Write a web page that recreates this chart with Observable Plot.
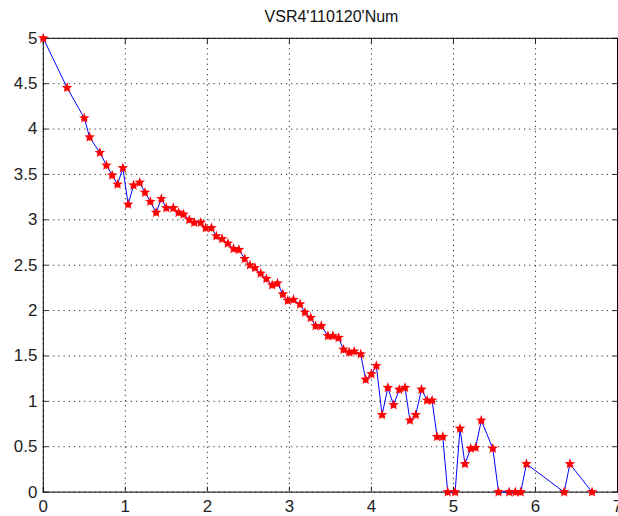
<!DOCTYPE html>
<html>
<head>
<meta charset="utf-8">
<script src="https://cdn.jsdelivr.net/npm/d3@7"></script>
<script src="https://cdn.jsdelivr.net/npm/@observablehq/plot@0.6"></script>
<style>
  html, body { margin: 0; padding: 0; background: #fff; overflow: hidden; }
  #wrap { position: relative; width: 618px; height: 516px; overflow: hidden; }
  #title {
    position: absolute; left: 0; width: 663px; top: 8px; text-align: center;
    font-family: "Liberation Sans", Arial, sans-serif; font-size: 16px; color: #111;
  }
  svg { display: block; }
</style>
</head>
<body>
<div id="wrap">
  <div id="title">VSR4'110120'Num</div>
  <div id="chart"></div>
</div>
<script>
// Sample positions and values of the VSR4 trace
const xs = [0, 0.29, 0.50, 0.565, 0.69, 0.77, 0.84, 0.905, 0.97, 1.035,
  1.10, 1.175, 1.24, 1.305, 1.375, 1.44, 1.50, 1.585, 1.65, 1.71,
  1.78, 1.84, 1.92, 1.98, 2.05, 2.11, 2.18, 2.25, 2.32, 2.385,
  2.455, 2.52, 2.58, 2.65, 2.72, 2.79, 2.855, 2.92, 2.98, 3.05,
  3.13, 3.19, 3.26, 3.32, 3.39, 3.47, 3.53, 3.60, 3.66, 3.73,
  3.79, 3.87, 3.93, 4.0, 4.06, 4.13, 4.20, 4.27, 4.34, 4.41,
  4.47, 4.54, 4.61, 4.68, 4.74, 4.80, 4.87, 4.93, 5.02, 5.08,
  5.14, 5.21, 5.27, 5.34, 5.48, 5.55, 5.68, 5.755, 5.82, 5.89,
  6.35, 6.42, 6.69];
const ys = [5.0, 4.455, 4.12, 3.91, 3.74, 3.60, 3.49, 3.39, 3.57, 3.17,
  3.38, 3.41, 3.30, 3.20, 3.08, 3.23, 3.13, 3.13, 3.08, 3.06,
  3.00, 2.97, 2.97, 2.91, 2.91, 2.82, 2.79, 2.74, 2.68, 2.67,
  2.57, 2.50, 2.47, 2.41, 2.35, 2.28, 2.30, 2.18, 2.11, 2.12,
  2.07, 1.98, 1.92, 1.83, 1.83, 1.72, 1.72, 1.70, 1.57, 1.54,
  1.55, 1.52, 1.24, 1.30, 1.39, 0.85, 1.15, 0.96, 1.13, 1.15,
  0.79, 0.85, 1.13, 1.01, 1.01, 0.61, 0.61, 0, 0, 0.70,
  0.31, 0.48, 0.49, 0.79, 0.48, 0, 0, 0, 0, 0.31,
  0, 0.31, 0];

// Axis ticks
const xTicks = [0, 1, 2, 3, 4, 5, 6, 7];
const yTicks = [0, 0.5, 1, 1.5, 2, 2.5, 3, 3.5, 4, 4.5, 5];

const pts = xs.map((x, i) => ({x, y: ys[i]}));
const font = '"Liberation Sans", Arial, sans-serif';

const chart = Plot.plot({
  width: 621,
  height: 516,
  marginLeft: 43,
  marginRight: 1,
  marginTop: 38,
  marginBottom: 22,
  style: {fontFamily: font, fontSize: "17px", color: "#222", background: "transparent", overflow: "visible"},
  x: {domain: [0, 7]},
  y: {domain: [0, 5]},
  marks: [
    Plot.gridX(xTicks, {stroke: "#000", strokeOpacity: 0.85, strokeDasharray: "1.2,4"}),
    Plot.gridY(yTicks, {stroke: "#000", strokeOpacity: 0.85, strokeDasharray: "1.2,4"}),
    Plot.axisX(xTicks, {anchor: "bottom", tickSize: -5, tickPadding: 13, label: null, tickFormat: d => String(d)}),
    Plot.axisX(xTicks, {anchor: "top", tickSize: -5, text: null, label: null}),
    Plot.axisY(yTicks, {anchor: "left", tickSize: -5, tickPadding: 11, label: null, tickFormat: d => String(d)}),
    Plot.axisY(yTicks, {anchor: "right", tickSize: -5, text: null, label: null}),
    Plot.frame({stroke: "#000"}),
    Plot.line(pts, {x: "x", y: "y", stroke: "#0000ff", strokeWidth: 1}),
    Plot.dot(pts, {x: "x", y: "y", symbol: "star", fill: "#ff0000", r: 3.4}),
    Plot.dot(pts, {x: "x", y: "y", symbol: "asterisk", stroke: "#ff0000", strokeWidth: 1.2, r: 3.2})
  ]
});
document.getElementById("chart").appendChild(chart);
</script>
</body>
</html>
